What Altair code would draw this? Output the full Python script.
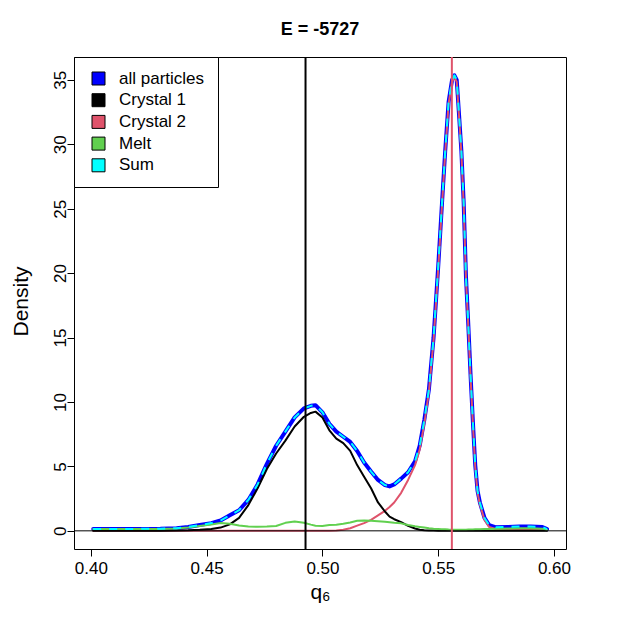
import altair as alt
import pandas as pd

# ---- data ----
q6 = [0.401, 0.410, 0.420, 0.430, 0.437, 0.442, 0.447, 0.452, 0.456, 0.460,
      0.464, 0.468, 0.472, 0.476, 0.480, 0.484, 0.488, 0.492, 0.495, 0.497,
      0.500, 0.503, 0.506, 0.509, 0.512, 0.515, 0.518, 0.521, 0.524, 0.527,
      0.529, 0.531, 0.534, 0.537, 0.540, 0.542, 0.544, 0.546, 0.548, 0.550,
      0.5515, 0.553, 0.5545, 0.556, 0.557, 0.558, 0.559, 0.560, 0.561, 0.562,
      0.563, 0.564, 0.565, 0.566, 0.567, 0.568, 0.570, 0.572, 0.575, 0.580,
      0.585, 0.590, 0.595, 0.597]

all_particles = [0.15, 0.15, 0.15, 0.16, 0.20, 0.30, 0.45, 0.60, 0.80, 1.20,
                 1.60, 2.40, 3.60, 5.20, 6.60, 7.70, 8.80, 9.50, 9.70, 9.75,
                 9.20, 8.30, 7.70, 7.30, 6.90, 6.20, 5.30, 4.60, 3.95, 3.55,
                 3.45, 3.60, 4.05, 4.55, 5.40, 6.60, 8.60, 11.0, 15.0, 20.5,
                 25.0, 29.4, 33.3, 35.0, 35.35, 35.0, 32.3, 29.5, 25.5, 19.7,
                 16.0, 12.0, 8.40, 5.10, 3.10, 2.20, 1.00, 0.45, 0.27, 0.30,
                 0.33, 0.33, 0.30, 0.13]

crystal1 = [0.00, 0.00, 0.00, 0.01, 0.02, 0.04, 0.08, 0.15, 0.25, 0.50,
            1.00, 2.00, 3.30, 4.80, 6.00, 7.00, 8.10, 8.85, 9.15, 9.25,
            8.80, 7.80, 7.15, 6.80, 6.20, 5.10, 4.20, 3.30, 2.20, 1.50,
            1.10, 0.90, 0.68, 0.38, 0.18, 0.09, 0.05, 0.03, 0.02, 0.01,
            0.00, 0.00, 0.00, 0.00, 0.00, 0.00, 0.00, 0.00, 0.00, 0.00,
            0.00, 0.00, 0.00, 0.00, 0.00, 0.00, 0.00, 0.00, 0.00, 0.00,
            0.00, 0.00, 0.00, 0.00]

crystal2 = [0.00, 0.00, 0.00, 0.00, 0.00, 0.00, 0.00, 0.00, 0.00, 0.00,
            0.00, 0.00, 0.00, 0.00, 0.00, 0.00, 0.00, 0.00, 0.00, 0.00,
            0.00, 0.00, 0.02, 0.08, 0.20, 0.40, 0.60, 0.85, 1.20, 1.55,
            1.85, 2.20, 2.95, 3.95, 5.10, 6.30, 8.30, 10.8, 14.8, 20.3,
            24.85, 29.25, 33.15, 34.85, 35.2, 34.85, 32.15, 29.35, 25.35, 19.55,
            15.85, 11.85, 8.25, 4.95, 2.95, 2.05, 0.85, 0.30, 0.12, 0.12,
            0.13, 0.14, 0.12, 0.05]

melt = [0.15, 0.15, 0.15, 0.15, 0.18, 0.25, 0.38, 0.50, 0.60, 0.55,
        0.42, 0.33, 0.32, 0.33, 0.38, 0.62, 0.72, 0.62, 0.48, 0.40,
        0.38, 0.45, 0.47, 0.55, 0.65, 0.78, 0.80, 0.78, 0.75, 0.70,
        0.66, 0.62, 0.58, 0.45, 0.35, 0.30, 0.25, 0.20, 0.16, 0.14,
        0.13, 0.12, 0.10, 0.09, 0.08, 0.08, 0.08, 0.08, 0.08, 0.09,
        0.10, 0.10, 0.10, 0.12, 0.12, 0.12, 0.14, 0.15, 0.16, 0.18,
        0.20, 0.20, 0.17, 0.08]

sum_total = [0.15, 0.15, 0.15, 0.16, 0.20, 0.30, 0.45, 0.60, 0.80, 1.20,
             1.60, 2.40, 3.60, 5.20, 6.60, 7.70, 8.80, 9.50, 9.70, 9.75,
             9.20, 8.30, 7.70, 7.30, 6.90, 6.20, 5.30, 4.60, 3.95, 3.55,
             3.45, 3.60, 4.05, 4.55, 5.40, 6.60, 8.60, 11.0, 15.0, 20.5,
             25.0, 29.4, 33.3, 35.0, 35.35, 35.0, 32.3, 29.5, 25.5, 19.7,
             16.0, 12.0, 8.40, 5.10, 3.10, 2.20, 1.00, 0.45, 0.27, 0.30,
             0.33, 0.33, 0.30, 0.13]

vline_crystal1 = [0.4927]
vline_crystal2 = [0.5559]
hline_zero = [0.0]

legend_labels = ["all particles", "Crystal 1", "Crystal 2", "Melt", "Sum"]
legend_colors = ["#0000FF", "#000000", "#DF536B", "#61D04F", "#00FFFF"]

x_ticks = [0.40, 0.45, 0.50, 0.55, 0.60]
y_ticks = [0, 5, 10, 15, 20, 25, 30, 35]

FONT = "Liberation Sans"

df = pd.DataFrame({"q6": q6, "all": all_particles, "c1": crystal1,
                   "c2": crystal2, "melt": melt, "sum": sum_total})

xs = alt.Scale(domain=[0.3927, 0.6052], nice=False, zero=False)
ys = alt.Scale(domain=[-1.41, 36.77], nice=False, zero=False)

x_axis = alt.Axis(values=x_ticks, format=".2f", title="q₆", grid=False,
                  domain=False, ticks=True, tickSize=7, tickColor="black",
                  labelFontSize=17, labelColor="black", labelPadding=4,
                  titleFontSize=21, titleFontWeight="normal", titleColor="black",
                  titleX=246, titleY=49, titleBaseline="alphabetic", titleAlign="center")
y_axis = alt.Axis(values=y_ticks, format="d", title="Density", grid=False,
                  domain=False, ticks=True, tickSize=7, tickColor="black",
                  labelFontSize=17, labelColor="black", labelAngle=270,
                  labelAlign="center", labelBaseline="alphabetic", labelPadding=2,
                  titleFontSize=21, titleFontWeight="normal", titleColor="black",
                  titleAngle=270, titleX=-47, titleY=244,
                  titleBaseline="alphabetic", titleAlign="center")

X = alt.X("q6:Q", scale=xs, axis=x_axis)


def curve(col, color, width, dash=None):
    kw = dict(color=color, strokeWidth=width, strokeCap="round", strokeJoin="round")
    if dash is not None:
        kw["strokeDash"] = dash
        kw["strokeCap"] = "butt"
    return alt.Chart(df).mark_line(**kw).encode(
        x=X, y=alt.Y(f"{col}:Q", scale=ys, axis=y_axis))


l_all = curve("all", "#0000FF", 4)
l_c2 = curve("c2", "#DF536B", 2)
l_c1 = curve("c1", "#000000", 2)
l_melt = curve("melt", "#61D04F", 2)
l_sum = curve("sum", "#00FFFF", 2, dash=[8, 8])

h0 = alt.Chart(pd.DataFrame({"y0": hline_zero})).mark_rule(
    color="black", strokeWidth=1).encode(y=alt.Y("y0:Q", scale=ys, axis=y_axis))
v1 = alt.Chart(pd.DataFrame({"q6": vline_crystal1})).mark_rule(
    color="black", strokeWidth=2).encode(x=X)
v2 = alt.Chart(pd.DataFrame({"q6": vline_crystal2})).mark_rule(
    color="#DF536B", strokeWidth=2).encode(x=X)

legend_layer = alt.Chart(pd.DataFrame({"series": legend_labels})).mark_square(
    filled=True, stroke="black", strokeWidth=1, clip=True, size=169).encode(
    x=alt.value(-200), y=alt.value(-200),
    color=alt.Color("series:N",
                    scale=alt.Scale(domain=legend_labels, range=legend_colors),
                    legend=alt.Legend(title=None, orient="top-left", offset=0,
                                      padding=13, rowPadding=3.7, symbolType="square",
                                      symbolSize=169, symbolStrokeColor="black",
                                      symbolStrokeWidth=1, symbolOpacity=1,
                                      symbolOffset=3,
                                      labelFontSize=17, labelColor="black",
                                      labelOffset=12, labelFont=FONT,
                                      strokeColor="black", fillColor="white",
                                      cornerRadius=0)))

chart = alt.layer(l_all, l_c2, l_c1, l_melt, l_sum, h0, v1, v2, legend_layer).properties(
    width=492, height=492,
    title=alt.TitleParams("E = -5727", fontSize=18, fontWeight="bold", font=FONT,
                          color="black", anchor="middle", baseline="alphabetic",
                          offset=3),
    padding={"left": 66, "top": 49, "right": 50, "bottom": 60},
    autosize=alt.AutoSizeParams(type="none"),
).configure(font=FONT).configure_view(stroke="black", strokeWidth=1).configure_axis(
    labelFont=FONT, titleFont=FONT)

chart.save("out.html", embed_options={"renderer": "svg", "actions": False})
